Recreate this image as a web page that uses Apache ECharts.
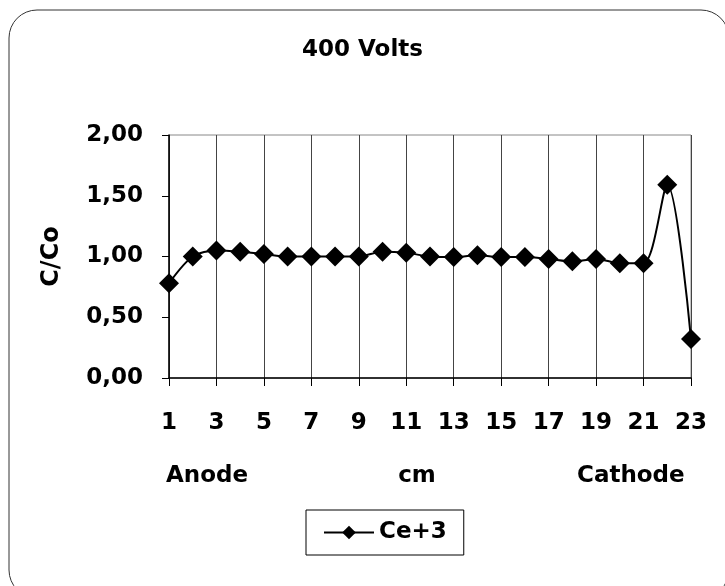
<!DOCTYPE html>
<html>
<head>
<meta charset="utf-8">
<script src="https://cdn.jsdelivr.net/npm/echarts@6/dist/echarts.min.js"></script>
<style>html,body{margin:0;padding:0;background:#fff}#c{width:725px;height:586px}</style>
</head>
<body>
<div id="c"></div>
<script>
var titleText = '400 Volts';
var categories = ['1','2','3','4','5','6','7','8','9','10','11','12','13','14','15','16','17','18','19','20','21','22','23'];
var ce3 = [0.78, 1.00, 1.05, 1.04, 1.02, 1.00, 1.00, 1.00, 1.00, 1.04, 1.03, 1.00, 0.995, 1.01, 0.995, 0.995, 0.98, 0.96, 0.98, 0.945, 0.945, 1.59, 0.32];
var seriesName = 'Ce+3';
var yTicks = [0, 0.5, 1, 1.5, 2];
var yName = 'C/Co';
var xName = 'cm';
var leftLabel = 'Anode';
var rightLabel = 'Cathode';

var FONT = 'DejaVu Sans';
var chart = echarts.init(document.getElementById('c'), null, {renderer: 'canvas'});
chart.setOption({
  animation: false,
  backgroundColor: '#fff',
  title: {
    text: titleText,
    left: 'center',
    top: 34,
    textStyle: {fontFamily: FONT, fontWeight: 'bold', fontSize: 23, color: '#000'}
  },
  legend: {
    data: [seriesName],
    left: 306,
    top: 510,
    padding: [11, 17],
    borderColor: '#000',
    borderWidth: 1,
    itemWidth: 50,
    itemHeight: 17,
    itemGap: 5,
    textStyle: {fontFamily: FONT, fontWeight: 'bold', fontSize: 23, color: '#000'}
  },
  grid: {
    left: 169, right: 34, top: 135, bottom: 208,
    show: true, borderColor: '#888', borderWidth: 1
  },
  xAxis: {
    type: 'category',
    data: categories,
    boundaryGap: false,
    name: xName,
    nameLocation: 'middle',
    nameGap: 87,
    nameTextStyle: {fontFamily: FONT, fontWeight: 'bold', fontSize: 23, color: '#000', padding: [0, 26, 0, 0]},
    axisLine: {lineStyle: {color: '#000', width: 1.5}},
    axisTick: {show: true, interval: 1, length: 8, lineStyle: {color: '#000'}},
    axisLabel: {interval: 1, margin: 34, fontFamily: FONT, fontWeight: 'bold', fontSize: 23, color: '#000'},
    splitLine: {show: true, interval: 1, lineStyle: {color: '#444', width: 1}}
  },
  yAxis: {
    type: 'value',
    min: 0, max: 2, interval: 0.5,
    name: yName,
    nameLocation: 'middle',
    nameGap: 105,
    nameRotate: 90,
    nameTextStyle: {fontFamily: FONT, fontWeight: 'bold', fontSize: 24, color: '#000'},
    axisLine: {show: true, lineStyle: {color: '#000', width: 1.5}},
    axisTick: {show: true, length: 7, lineStyle: {color: '#000'}},
    axisLabel: {
      margin: 26, fontFamily: FONT, fontWeight: 'bold', fontSize: 23, color: '#000',
      formatter: function (v) { return v.toFixed(2).replace('.', ','); }
    },
    splitLine: {show: false}
  },
  graphic: [
    {type: 'rect', silent: true, shape: {x: 9, y: 10, width: 720, height: 588, r: 28},
     style: {fill: 'none', stroke: '#333', lineWidth: 1}},
    {type: 'text', left: 166, top: 465,
     style: {text: leftLabel, fontFamily: FONT, fontWeight: 'bold', fontSize: 23, fill: '#000'}},
    {type: 'text', left: 577, top: 465,
     style: {text: rightLabel, fontFamily: FONT, fontWeight: 'bold', fontSize: 23, fill: '#000'}}
  ],
  series: [{
    name: seriesName,
    type: 'line',
    data: ce3,
    smooth: 0.3,
    showSymbol: true,
    showAllSymbol: true,
    symbol: 'diamond',
    symbolSize: 20,
    lineStyle: {color: '#000', width: 2},
    itemStyle: {color: '#000'}
  }]
});
</script>
</body>
</html>
